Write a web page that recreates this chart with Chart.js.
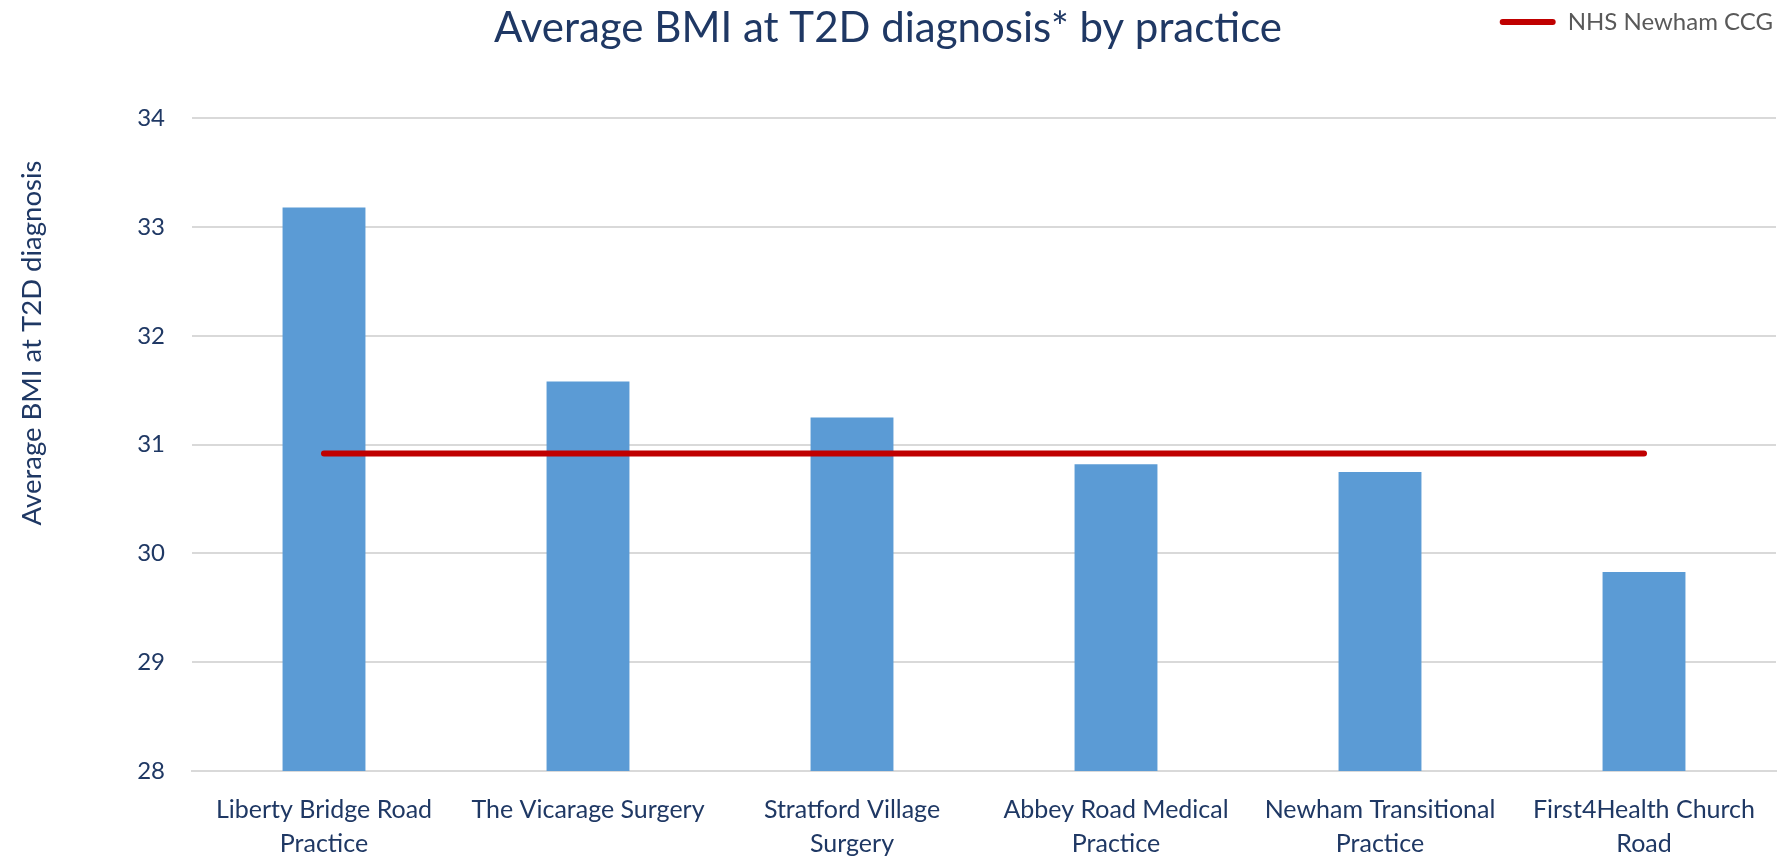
<!DOCTYPE html>
<html>
<head>
<meta charset="utf-8">
<title>Average BMI at T2D diagnosis by practice</title>
<script src="https://cdn.jsdelivr.net/npm/chart.js@4/dist/chart.umd.min.js"></script>
<style>
  html, body { margin: 0; padding: 0; background: #fff; }
  #wrap { width: 1780px; height: 856px; position: relative; }
</style>
</head>
<body>
<div id="wrap"><canvas id="bmi-chart"></canvas></div>
<script>
const practices = [
  ["Liberty Bridge Road", "Practice"],
  ["The Vicarage Surgery"],
  ["Stratford Village", "Surgery"],
  ["Abbey Road Medical", "Practice"],
  ["Newham Transitional", "Practice"],
  ["First4Health Church", "Road"],
];
const averageBmi = [33.18, 31.58, 31.25, 30.82, 30.75, 29.83];
const ccgAverage = 30.92;
const yTicks = [28, 29, 30, 31, 32, 33, 34];

const chartTitle = "Average BMI at T2D diagnosis* by practice";
const yTitle = "Average BMI at T2D diagnosis";
const ccgLabel = "NHS Newham CCG";

const navy = "#1f3864";
const barBlue = "#5b9bd5";
const darkRed = "#c00000";
const gridGrey = "#d9d9d9";
const fontFamily = "Lato, 'Open Sans', sans-serif";

// rotated y axis caption, sitting a bit above the middle of the axis
const yAxisCaption = {
  id: "yAxisCaption",
  afterDraw(chart) {
    const { ctx } = chart;
    ctx.save();
    ctx.translate(32, 343);
    ctx.rotate(-Math.PI / 2);
    ctx.font = `27.5px ${fontFamily}`;
    ctx.fillStyle = navy;
    ctx.textAlign = "center";
    ctx.textBaseline = "middle";
    ctx.fillText(yTitle, 0, 0);
    ctx.restore();
  },
};

// only the CCG line goes in the legend, drawn as a flat red bar
const legendLabels = (chart) =>
  Chart.defaults.plugins.legend.labels
    .generateLabels(chart)
    .filter((item) => item.text === ccgLabel)
    .map((item) => ({ ...item, fillStyle: darkRed, lineWidth: 0 }));

const ctx = document.getElementById("bmi-chart").getContext("2d");

new Chart(ctx, {
  type: "bar",
  data: {
    labels: practices,
    datasets: [
      {
        type: "line",
        label: ccgLabel,
        data: practices.map(() => ccgAverage),
        borderColor: darkRed,
        backgroundColor: darkRed,
        borderWidth: 6,
        borderCapStyle: "round",
        pointRadius: 0,
        pointHoverRadius: 0,
        order: 0,
      },
      {
        label: "Average BMI",
        data: averageBmi,
        backgroundColor: barBlue,
        barPercentage: 0.314,
        categoryPercentage: 1,
        order: 1,
      },
    ],
  },
  options: {
    responsive: true,
    maintainAspectRatio: false,
    animation: false,
    layout: {
      padding: { top: 7, right: 4, bottom: -26, left: 0 },
    },
    plugins: {
      legend: {
        position: "top",
        align: "end",
        weight: 3000,
        labels: {
          generateLabels: legendLabels,
          boxWidth: 56,
          boxHeight: 6,
          useBorderRadius: true,
          borderRadius: 3,
          color: "#595959",
          padding: 3,
          font: { family: fontFamily, size: 24 },
        },
      },
      title: {
        display: true,
        text: chartTitle,
        color: navy,
        weight: 2000,
        font: { family: fontFamily, size: 42, weight: "normal", lineHeight: 1.2 },
        padding: { top: -41, bottom: 65 },
      },
      tooltip: { enabled: false },
    },
    scales: {
      x: {
        grid: { display: false, drawTicks: false },
        border: { display: true, color: gridGrey, width: 2 },
        ticks: {
          color: navy,
          padding: 21.5,
          maxRotation: 0,
          autoSkip: false,
          font: { family: fontFamily, size: 25, lineHeight: 1.36 },
        },
      },
      y: {
        min: 28,
        max: 34,
        afterFit: (axis) => {
          axis.width = 192;
        },
        afterBuildTicks: (axis) => {
          axis.ticks = yTicks.map((v) => ({ value: v }));
        },
        grid: { color: gridGrey, lineWidth: 2, drawTicks: false },
        border: { display: false },
        ticks: {
          color: navy,
          padding: 27,
          font: { family: fontFamily, size: 24 },
        },
      },
    },
  },
  plugins: [yAxisCaption],
});
</script>
</body>
</html>
